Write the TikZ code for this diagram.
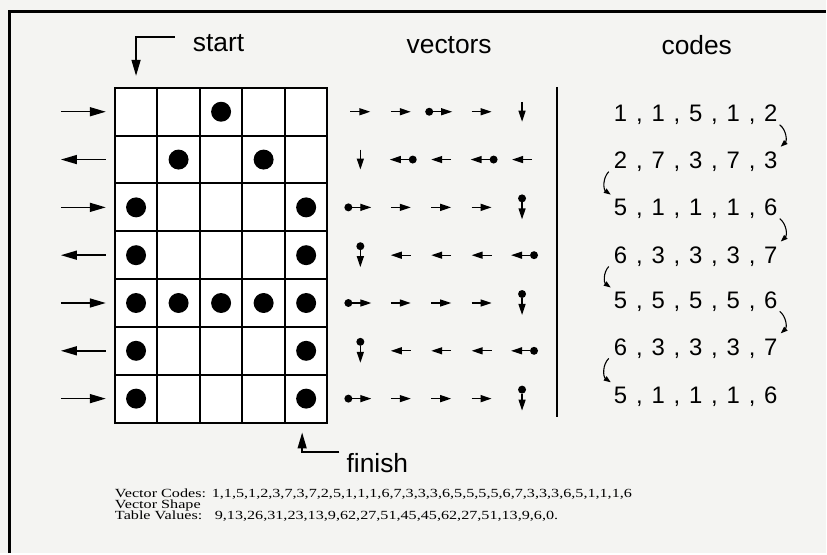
\documentclass[tikz,border=0pt]{standalone}
\usepackage{fontspec}
\setmainfont{Liberation Sans}
\newfontfamily\capfont[FakeStretch=1.3]{Liberation Serif}
\usetikzlibrary{arrows.meta}
\definecolor{paper}{RGB}{244,244,242}
\newcommand{\csep}{\hspace{0.37em},\hspace{0.37em}}
\tikzset{
  vec/.style={line width=1.3bp,-{Triangle[length=11bp,width=7bp]}},
  pics/E/.style={code={\draw[vec] (-10,0) -- (10,0);}},
  pics/W/.style={code={\draw[vec] (10,0) -- (-10,0);}},
  pics/S/.style={code={\draw[vec] (0,-10) -- (0,10);}},
  pics/dE/.style={code={\fill (-12,0) circle (4bp); \draw[vec] (-8,0) -- (11,0);}},
  pics/Wd/.style={code={\fill (12,0) circle (4bp); \draw[vec] (8,0) -- (-11,0);}},
  pics/dS/.style={code={\fill (0,-9) circle (4bp); \draw[vec] (0,-5) -- (0,12);}}
}

\begin{document}
\begin{tikzpicture}[x=1bp,y=-1bp,
  cell/.style={draw,line width=2bp,fill=white,minimum width=42.6bp,minimum height=47.9bp,inner sep=0pt},
  ptr/.style={line width=1.5bp,-{Triangle[length=16bp,width=9bp]}},
  turn/.style={line width=1.1bp,-{Triangle[length=7bp,width=5bp]}},
  head/.style={font=\fontsize{26.5}{30}\selectfont,inner sep=0pt},
  code/.style={font=\fontsize{24}{28}\selectfont,inner sep=0pt,anchor=base},
  captext/.style={font=\capfont\fontsize{12.5}{14}\selectfont,inner sep=0pt,anchor=base west}]

\fill[paper] (0,0) rectangle (827,554);
\draw[line width=3bp] (10,554) -- (10,12) -- (827,12);

% the grid
\foreach \r in {1,...,7}
  \foreach \c in {1,...,5}
    \node[cell] (c-\r-\c) at ({115+42.6*(\c-0.5)},{88+47.9*(\r-0.5)}) {};
\foreach \r/\c in {1/3,2/2,2/4,3/1,3/5,4/1,4/5,5/1,5/2,5/3,5/4,5/5,6/1,6/5,7/1,7/5}
  \fill (c-\r-\c) circle (10bp);

% scan direction
\foreach \r in {1,3,5,7}
  \draw[ptr] ([xshift=-53bp]c-\r-1.west) -- ([xshift=-8bp]c-\r-1.west);
\foreach \r in {2,4,6}
  \draw[ptr] ([xshift=-8bp]c-\r-1.west) -- ([xshift=-53bp]c-\r-1.west);

\node[head,anchor=west] (start) at (193,43) {start};
\draw[ptr] ([shift={(-18bp,6bp)}]start.west) -| ([yshift=11bp]c-1-1.north);
\node[head,anchor=west] (finish) at (347,464) {finish};
\draw[ptr] ([shift={(-7bp,11bp)}]finish.west) -| ([shift={(-4bp,-9bp)}]c-7-5.south);

% vectors
\node[head] (vectors) at (450,45) {vectors};
\foreach \r/\vl in {1/{E,E,dE,E,S},2/{S,Wd,W,Wd,W},3/{dE,E,E,E,dS},4/{dS,W,W,W,Wd},
                    5/{dE,E,E,E,dS},6/{dS,W,W,W,Wd},7/{dE,E,E,E,dS}}
  \foreach \k [count=\c] in \vl
    \pic at ({361+40.5*(\c-1)},{88+47.9*(\r-0.5)}) {\k};

\draw[line width=2.5bp] (558,87) -- (558,418);

% codes
\node[head] (codes) at (698,45) {codes};
\node[code] (k1) at (697,122) {1\csep 1\csep 5\csep 1\csep 2};
\node[code] (k2) at (697,169) {2\csep 7\csep 3\csep 7\csep 3};
\node[code] (k3) at (697,216) {5\csep 1\csep 1\csep 1\csep 6};
\node[code] (k4) at (697,264) {6\csep 3\csep 3\csep 3\csep 7};
\node[code] (k5) at (697,309) {5\csep 5\csep 5\csep 5\csep 6};
\node[code] (k6) at (697,356) {6\csep 3\csep 3\csep 3\csep 7};
\node[code] (k7) at (697,404) {5\csep 1\csep 1\csep 1\csep 6};
\foreach \i/\j in {1/2,3/4,5/6}
  \draw[turn] ([shift={(2bp,-3bp)}]k\i.base east) to[bend left=50] ([shift={(3bp,22bp)}]k\j.base east);
\foreach \i/\j in {2/3,4/5,6/7}
  \draw[turn] ([shift={(-5bp,-3bp)}]k\i.base west) to[bend right=50] ([shift={(-3bp,21bp)}]k\j.base west);

% caption
\node[captext] (lab1) at (115,498) {Vector Codes:};
\node[captext] (lab2) at (115,509) {Vector Shape};
\node[captext] (lab3) at (115,520) {Table Values:};
\node[captext] (val1) at (212,498) {1,1,5,1,2,3,7,3,7,2,5,1,1,1,6,7,3,3,3,6,5,5,5,5,6,7,3,3,3,6,5,1,1,1,6};
\node[captext] (val3) at (215,520) {9,13,26,31,23,13,9,62,27,51,45,45,62,27,51,13,9,6,0.};
\end{tikzpicture}
\end{document}
